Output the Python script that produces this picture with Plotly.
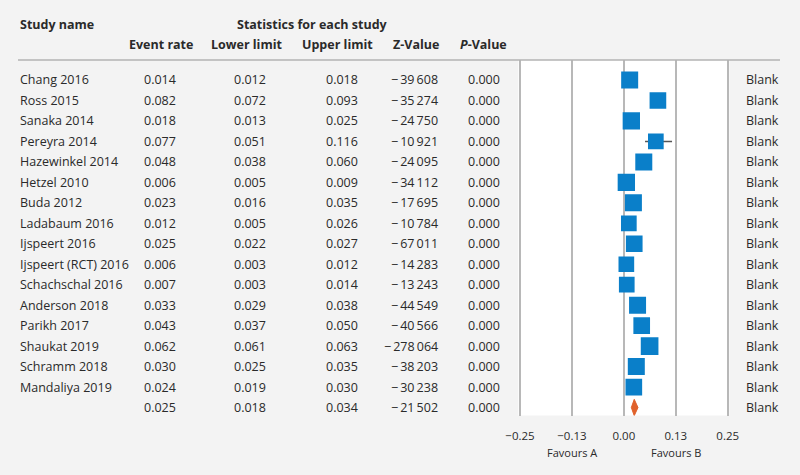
import plotly.graph_objects as go

# Study data
studies = ["Chang 2016", "Ross 2015", "Sanaka 2014", "Pereyra 2014", "Hazewinkel 2014",
           "Hetzel 2010", "Buda 2012", "Ladabaum 2016", "Ijspeert 2016", "Ijspeert (RCT) 2016",
           "Schachschal 2016", "Anderson 2018", "Parikh 2017", "Shaukat 2019", "Schramm 2018",
           "Mandaliya 2019"]
event_rate = [0.014, 0.082, 0.018, 0.077, 0.048, 0.006, 0.023, 0.012, 0.025, 0.006,
              0.007, 0.033, 0.043, 0.062, 0.030, 0.024]
lower_limit = [0.012, 0.072, 0.013, 0.051, 0.038, 0.005, 0.016, 0.005, 0.022, 0.003,
               0.003, 0.029, 0.037, 0.061, 0.025, 0.019]
upper_limit = [0.018, 0.093, 0.025, 0.116, 0.060, 0.009, 0.035, 0.026, 0.027, 0.012,
               0.014, 0.038, 0.050, 0.063, 0.035, 0.030]
z_value = [-39608, -35274, -24750, -10921, -24095, -34112, -17695, -10784, -67011, -14283,
           -13243, -44549, -40566, -278064, -38203, -30238]
p_value = [0.000] * 16
# relative weight of each study (square area)
rel_weight = [1.0, 0.96, 1.04, 0.85, 1.0, 1.04, 1.0, 0.85, 0.96, 0.85,
              0.85, 1.0, 0.96, 1.08, 1.0, 0.96]

# pooled estimate
pooled = {"rate": 0.025, "lower": 0.018, "upper": 0.034, "z": -21502, "p": 0.000}

tick_vals = [-0.25, -0.125, 0.0, 0.125, 0.25]
tick_text = ["\u22120.25", "\u22120.13", "0.00", "0.13", "0.25"]

FONT = "Open Sans"
TXT = "#2a2a2a"
W, H = 800, 475


def fmt_z(v):
    s = f"{abs(v):,}".replace(",", "\u2009")
    return ("\u2212\u2009" if v < 0 else "") + s


def px_x(px):
    return px / W


def px_y(py):
    return 1 - py / H


n = len(studies)
rows = list(range(n))
pooled_row = n

fig = go.Figure()

# confidence interval lines (drawn first so squares sit on top)
ci_x, ci_y = [], []
for r, lo, up in zip(rows, lower_limit, upper_limit):
    ci_x += [lo, up, None]
    ci_y += [r, r, None]
fig.add_trace(go.Scatter(
    x=ci_x, y=ci_y, mode="lines", line=dict(color="#555555", width=1.5),
    hoverinfo="skip", showlegend=False,
))

# study squares
fig.add_trace(go.Scatter(
    x=event_rate, y=rows, mode="markers",
    marker=dict(symbol="square", color="#0a7fc9", opacity=1,
                size=[17 * w ** 0.5 for w in rel_weight], line=dict(width=0)),
    hoverinfo="skip", showlegend=False,
))

# pooled diamond
dh = 0.4
fig.add_trace(go.Scatter(
    x=[pooled["lower"], pooled["rate"], pooled["upper"], pooled["rate"], pooled["lower"]],
    y=[pooled_row, pooled_row - dh, pooled_row, pooled_row + dh, pooled_row],
    mode="lines", fill="toself", fillcolor="#e0622c", line=dict(color="#e0622c", width=1),
    hoverinfo="skip", showlegend=False,
))

annotations = []


def add_text(text, x, y, xanchor="center", yref="y", bold=False, size=12.5):
    if bold:
        text = f"<b>{text}</b>"
    annotations.append(dict(text=text, x=x, y=y, xref="paper", yref=yref,
                            xanchor=xanchor, yanchor="middle", showarrow=False,
                            font=dict(family=FONT, size=size, color=TXT)))


# headers
add_text("Study name", px_x(18), px_y(25), "left", "paper", True)
add_text("Statistics for each study", px_x(312), px_y(25), "center", "paper", True)
add_text("Event rate", px_x(161), px_y(45), "center", "paper", True)
add_text("Lower limit", px_x(247), px_y(45), "center", "paper", True)
add_text("Upper limit", px_x(337), px_y(45), "center", "paper", True)
add_text("Z-Value", px_x(416), px_y(45), "center", "paper", True)
add_text("<i>P</i>-Value", px_x(483), px_y(45), "center", "paper", True)

all_names = studies + [""]
all_rate = event_rate + [pooled["rate"]]
all_low = lower_limit + [pooled["lower"]]
all_up = upper_limit + [pooled["upper"]]
all_z = z_value + [pooled["z"]]
all_p = p_value + [pooled["p"]]

for r in range(n + 1):
    if all_names[r]:
        add_text(all_names[r], px_x(18), r, "left")
    add_text(f"{all_rate[r]:.3f}", px_x(160), r)
    add_text(f"{all_low[r]:.3f}", px_x(250), r)
    add_text(f"{all_up[r]:.3f}", px_x(342), r)
    add_text(fmt_z(all_z[r]), px_x(440), r, "right")
    add_text(f"{all_p[r]:.3f}", px_x(484), r)
    add_text("Blank", px_x(744), r, "left")

# favours labels
for lbl, xv in [("Favours A", -0.125), ("Favours B", 0.125)]:
    annotations.append(dict(text=lbl, x=xv, y=px_y(452), xref="x", yref="paper",
                            showarrow=False, xanchor="center", yanchor="middle",
                            font=dict(family=FONT, size=11, color=TXT)))

# row spacing ~20.47 px, first row at py=80, plot box from py=60 to 415.5
row_px = 20.47
top_r = (60 - 80) / row_px
bot_r = (415.5 - 80) / row_px
# small padding so the gridlines at +-0.25 are not clipped away
eps = 0.004
ppu = 415.4  # pixels per unit on the x axis

fig.update_layout(
    width=W, height=H,
    margin=dict(l=0, r=0, t=0, b=0, autoexpand=False),
    paper_bgcolor="#f3f3f3",
    plot_bgcolor="white",
    font=dict(family=FONT, color=TXT),
    annotations=annotations,
    shapes=[dict(type="line", xref="paper", yref="paper",
                 x0=px_x(18), x1=px_x(780), y0=px_y(60), y1=px_y(60),
                 line=dict(color="#b3b3b3", width=1.5))],
    xaxis=dict(domain=[px_x(520 - eps * ppu), px_x(727.7 + eps * ppu)],
               range=[-0.25 - eps, 0.25 + eps],
               tickvals=tick_vals, ticktext=tick_text,
               showgrid=True, gridcolor="#b8b8b8", gridwidth=1.5,
               zeroline=False, showline=False, ticks="",
               ticklabelstandoff=12,
               tickfont=dict(family=FONT, size=11.5, color=TXT)),
    yaxis=dict(domain=[px_y(415.5), px_y(60)], range=[bot_r, top_r],
               showgrid=False, zeroline=False, showticklabels=False, showline=False),
)

fig.write_html("out.html", config={"displayModeBar": False},
               post_script="document.body.style.margin='0';document.body.style.overflow='hidden';")
